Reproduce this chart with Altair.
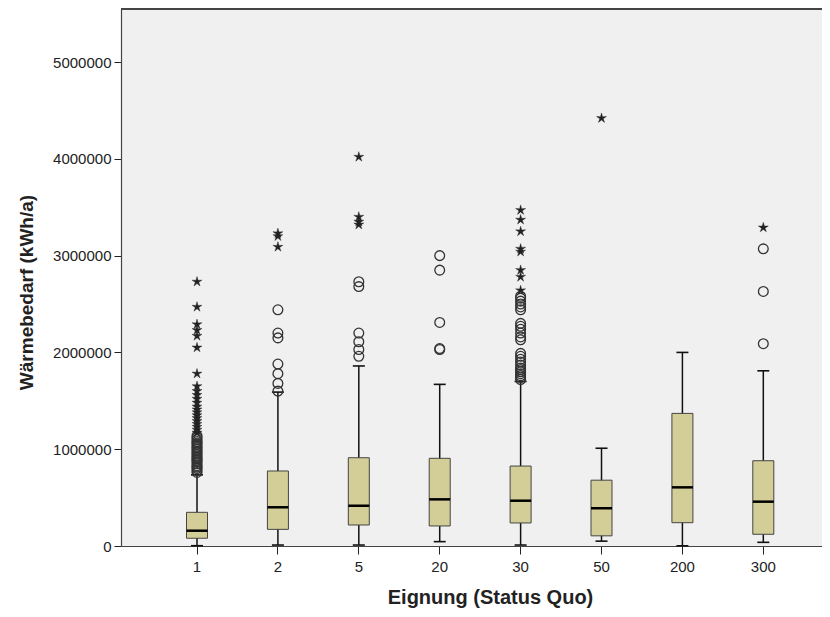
import altair as alt
import pandas as pd

# Categories (Eignung, Status Quo)
categories = ["1", "2", "5", "20", "30", "50", "200", "300"]

# Box statistics (kWh/a)
whisker_low = [3000, 10000, 10000, 45000, 10000, 50000, 2000, 38000]
q1 = [80000, 172000, 217000, 207000, 238000, 105000, 241000, 121000]
median = [158000, 400000, 416000, 482000, 468000, 390000, 606000, 458000]
q3 = [348000, 775000, 912000, 906000, 826000, 680000, 1370000, 881000]
whisker_high = [735000, 1590000, 1860000, 1670000, 1700000, 1010000, 2000000, 1810000]

# Outliers (circles) per category
circles_1 = [760000, 780000, 800000, 815000, 830000, 850000, 870000, 885000, 900000,
             915000, 930000, 950000, 965000, 980000, 1000000, 1015000, 1030000,
             1050000, 1065000, 1080000, 1100000, 1120000, 1140000]
circles_2 = [1600000, 1680000, 1780000, 1880000, 2150000, 2200000, 2440000]
circles_5 = [1960000, 2030000, 2110000, 2200000, 2680000, 2730000]
circles_20 = [2030000, 2040000, 2310000, 2850000, 3000000]
circles_30 = [1720000, 1740000, 1760000, 1780000, 1800000, 1820000, 1840000, 1870000,
              1900000, 1930000, 1960000, 1990000, 2130000, 2160000, 2200000, 2240000,
              2270000, 2300000, 2440000, 2470000, 2500000, 2530000, 2560000, 2580000]
circles_50 = []
circles_200 = []
circles_300 = [2090000, 2630000, 3070000]

# Extreme values (stars) per category
stars_1 = [1170000, 1200000, 1230000, 1260000, 1290000, 1320000, 1350000, 1380000,
           1410000, 1440000, 1480000, 1520000, 1560000, 1600000, 1650000, 1780000,
           2050000, 2170000, 2230000, 2290000, 2470000, 2730000]
stars_2 = [3090000, 3200000, 3230000]
stars_5 = [3320000, 3350000, 3400000, 4020000]
stars_20 = []
stars_30 = [2640000, 2780000, 2850000, 3040000, 3070000, 3250000, 3370000, 3470000]
stars_50 = [4420000]
stars_200 = []
stars_300 = [3290000]

circles = [circles_1, circles_2, circles_5, circles_20, circles_30, circles_50, circles_200, circles_300]
stars = [stars_1, stars_2, stars_5, stars_20, stars_30, stars_50, stars_200, stars_300]

summary = pd.DataFrame({
    "cat": categories, "lo": whisker_low, "q1": q1, "med": median,
    "q3": q3, "hi": whisker_high,
})
circ_df = pd.DataFrame([{"cat": c, "v": v} for c, vals in zip(categories, circles) for v in vals])
star_df = pd.DataFrame([{"cat": c, "v": v} for c, vals in zip(categories, stars) for v in vals])

FONT = "Liberation Sans"
YMAX = 5548000
W, H = 701, 537

x_enc = alt.X("cat:N", sort=categories, title="Eignung (Status Quo)",
              scale=alt.Scale(paddingInner=0, paddingOuter=0.3325, align=0.661),
              axis=alt.Axis(labelAngle=0, tickSize=8, labelPadding=5, labelFontSize=15,
                            labelFont=FONT, labelColor="#222", titleFont=FONT,
                            titleFontSize=20, titleFontWeight="bold", titleColor="#222",
                            titlePadding=13, titleX=369, domainColor="#444",
                            tickColor="#222", domainWidth=1.2, tickWidth=1))
y_scale = alt.Scale(domain=[0, YMAX], nice=False, zero=True)
y_axis = alt.Axis(values=[0, 1000000, 2000000, 3000000, 4000000, 5000000], format="d",
                  tickSize=7, labelPadding=3, labelFontSize=15, labelFont=FONT,
                  labelColor="#222", titleFont=FONT, titleFontSize=19,
                  titleFontWeight="bold", titleColor="#222", titlePadding=16,
                  titleY=283, domainColor="#444", tickColor="#222", grid=False,
                  domainWidth=1.2)

base = alt.Chart(summary)

whisk = base.mark_rule(color="#111", strokeWidth=1.5).encode(
    x=x_enc,
    y=alt.Y("lo:Q", scale=y_scale, axis=y_axis, title="Wärmebedarf (kWh/a)"),
    y2="hi:Q",
)
box = base.mark_bar(size=21, fill="#D3CE97", stroke="#444", strokeWidth=1).encode(
    x=x_enc, y="q1:Q", y2="q3:Q",
)
med = base.mark_tick(size=21, thickness=2.5, color="#000", opacity=1).encode(
    x=x_enc, y="med:Q",
)
cap_hi = base.mark_tick(size=12, thickness=1.6, color="#111", opacity=1).encode(
    x=x_enc, y="hi:Q",
)
cap_lo = base.mark_tick(size=12, thickness=1.6, color="#111", opacity=1).encode(
    x=x_enc, y="lo:Q",
)
circ = alt.Chart(circ_df).mark_point(shape="circle", filled=False, size=95,
                                     stroke="#333", strokeWidth=1.3, opacity=1).encode(
    x=x_enc, y="v:Q",
)
star_path = ("M0,-1L0.2,-0.28L0.951,-0.309L0.33,0.11L0.588,0.809L0,0.35"
             "L-0.588,0.809L-0.33,0.11L-0.951,-0.309L-0.2,-0.28Z")
star = alt.Chart(star_df).mark_point(shape=star_path, filled=True, size=110,
                                     fill="#222", stroke="#222", strokeWidth=0.4,
                                     opacity=1).encode(
    x=x_enc, y="v:Q",
)
top_border = alt.Chart(summary).mark_rule(color="#444", strokeWidth=1.2).encode(
    x=alt.value(0), x2=alt.value(W), y=alt.value(0),
)

chart = alt.layer(whisk, box, med, cap_hi, cap_lo, circ, star, top_border).properties(
    width=W, height=H,
    autosize=alt.AutoSizeParams(type="none"),
    padding={"left": 113, "top": 1, "right": 0, "bottom": 63},
    background="white",
).configure_view(fill="#F0F0F0", stroke=None)

chart.save("out.html", embed_options={"renderer": "svg", "actions": False})
